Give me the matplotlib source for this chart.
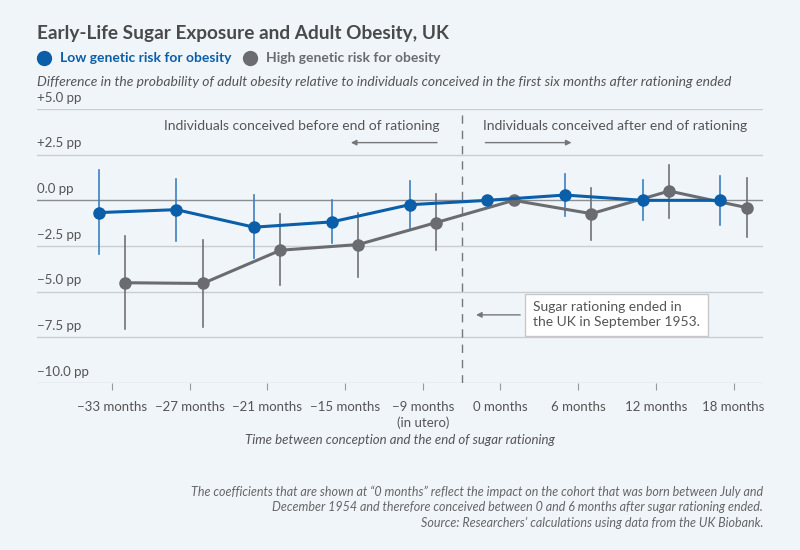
import matplotlib
matplotlib.use("Agg")
import matplotlib.pyplot as plt
from matplotlib.lines import Line2D
from matplotlib import transforms
import numpy as np

# ----------------- Data -----------------
tick_labels = ["\u221233 months", "\u221227 months", "\u221221 months", "\u221215 months",
               "\u22129 months\n(in utero)", "0 months", "6 months", "12 months", "18 months"]

low_val = [-0.67, -0.51, -1.47, -1.18, -0.24, 0.0, 0.29, 0.0, 0.0]
low_hi = [1.64, 1.18, 0.29, 0.0, 1.04, None, 1.45, 1.09, 1.31]
low_lo = [-2.95, -2.24, -3.18, -2.33, -1.49, None, -0.87, -1.05, -1.33]

high_val = [-4.51, -4.55, -2.73, -2.42, -1.22, 0.0, -0.73, 0.51, -0.40]
high_hi = [-1.95, -2.15, -0.73, -0.69, 0.36, None, 0.69, 1.91, 1.22]
high_lo = [-7.05, -6.95, -4.64, -4.18, -2.73, None, -2.15, -0.96, -2.00]

y_ticks = [5.0, 2.5, 0.0, -2.5, -5.0, -7.5, -10.0]
y_tick_labels = ["+5.0 pp", "+2.5 pp", "0.0 pp", "\u22122.5 pp", "\u22125.0 pp", "\u22127.5 pp", "\u221210.0 pp"]

# ----------------- Style -----------------
plt.rcParams["font.family"] = ["Lato", "DejaVu Sans"]
BG = "#f0f5fa"
BLUE = "#0b5ea8"
BLUE_ERR = "#3d7fc0"
GRAY = "#6b6c70"
TEXT = "#555555"
GRID = "#c9ced5"

fig = plt.figure(figsize=(8, 5.5), dpi=100, facecolor=BG)
ax = fig.add_axes([0.046, 0.3036, 0.908, 0.4982])
ax.set_facecolor(BG)

x = np.arange(len(tick_labels))
off = 0.17

# gridlines
for yv in y_ticks:
    ax.axhline(yv, color=GRID if yv != 0 else "#8a8d92", lw=1.0, zorder=1)
trans = transforms.blended_transform_factory(ax.transAxes, ax.transData)
for yv, lab in zip(y_ticks, y_tick_labels):
    ax.text(0.0, yv + 0.3, lab, transform=trans, ha="left", va="bottom",
            fontsize=9.5, color=TEXT)

# dashed vertical line
ax.axvline(4.5, color="#777777", lw=1.0, ls=(0, (6, 5)), zorder=2)

# error bars and lines
for xi, v, hi, lo in zip(x - off, low_val, low_hi, low_lo):
    if hi is not None:
        ax.plot([xi, xi], [lo, hi], color=BLUE_ERR, lw=1.2, zorder=3)
for xi, v, hi, lo in zip(x + off, high_val, high_hi, high_lo):
    if hi is not None:
        ax.plot([xi, xi], [lo, hi], color="#707175", lw=1.2, zorder=3)

ax.plot(x + off, high_val, color=GRAY, lw=2.2, marker="o", ms=8, zorder=4)
ax.plot(x - off, low_val, color=BLUE, lw=2.2, marker="o", ms=8, zorder=5)

# annotations
ax.text(4.22, 3.75, "Individuals conceived before end of rationing", ha="right", va="bottom",
        fontsize=10, color=TEXT)
ax.annotate("", xy=(3.04, 3.16), xytext=(4.22, 3.16),
            arrowprops=dict(arrowstyle="-|>", color="#777777", lw=1.0, mutation_scale=8))
ax.text(4.77, 3.75, "Individuals conceived after end of rationing", ha="left", va="bottom",
        fontsize=10, color=TEXT)
ax.annotate("", xy=(5.95, 3.16), xytext=(4.77, 3.16),
            arrowprops=dict(arrowstyle="-|>", color="#777777", lw=1.0, mutation_scale=8))

ax.text(5.42, -6.27, "Sugar rationing ended in\nthe UK in September 1953.", ha="left", va="center",
        fontsize=10, color=TEXT, linespacing=1.3, zorder=6,
        bbox=dict(boxstyle="square,pad=0.55", fc="white", ec="#c8c8c8", lw=1.0))
ax.annotate("", xy=(4.65, -6.27), xytext=(5.29, -6.27),
            arrowprops=dict(arrowstyle="-|>", color="#777777", lw=1.0, mutation_scale=8))

# axes
ax.set_xlim(-0.965, 8.38)
ax.set_ylim(-10, 5)
ax.set_yticks([])
ax.set_xticks(x)
ax.set_xticklabels(tick_labels, fontsize=9.5, color=TEXT, linespacing=1.3)
ax.tick_params(axis="x", length=5, color="#999999", pad=8)
for s in ax.spines.values():
    s.set_visible(False)
ax.set_xlabel("Time between conception and the end of sugar rationing", fontsize=9.5,
              color=TEXT, style="italic", labelpad=4)

# ----------------- Header -----------------
fig.text(0.046, 0.94, "Early-Life Sugar Exposure and Adult Obesity, UK", fontsize=13.7,
         fontweight="bold", color="#4a4a4a", va="center")
fig.add_artist(Line2D([0.055], [0.895], marker="o", ms=10, color=BLUE, transform=fig.transFigure))
fig.text(0.075, 0.895, "Low genetic risk for obesity", fontsize=10, fontweight="bold",
         color=BLUE, va="center")
fig.add_artist(Line2D([0.313], [0.895], marker="o", ms=10, color=GRAY, transform=fig.transFigure))
fig.text(0.333, 0.895, "High genetic risk for obesity", fontsize=10, fontweight="bold",
         color=GRAY, va="center")
fig.text(0.046, 0.851, "Difference in the probability of adult obesity relative to individuals "
         "conceived in the first six months after rationing ended",
         fontsize=10, style="italic", color=TEXT, va="center")

# ----------------- Footnote -----------------
fig.text(0.954, 0.038,
         "The coefficients that are shown at \u201c0 months\u201d reflect the impact on the cohort that was born between July and\n"
         "December 1954 and therefore conceived between 0 and 6 months after sugar rationing ended.\n"
         "Source: Researchers\u2019 calculations using data from the UK Biobank.",
         fontsize=9, style="italic", color="#666666", ha="right", va="bottom", linespacing=1.35)

fig.savefig("out.png", dpi=100, facecolor=BG)
